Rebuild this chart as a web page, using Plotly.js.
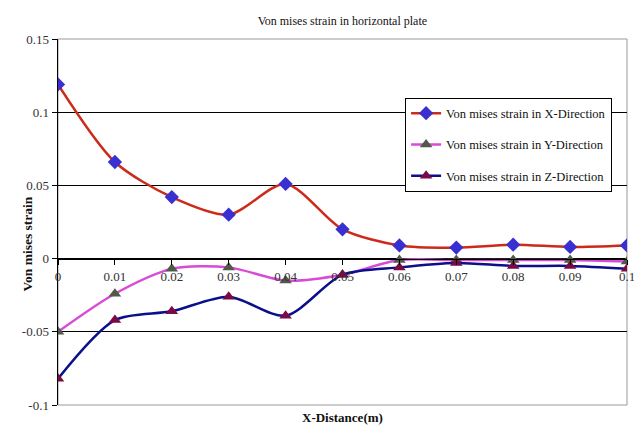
<!DOCTYPE html>
<html>
<head>
<meta charset="utf-8">
<script src="https://cdn.plot.ly/plotly-3.0.1.min.js"></script>
<style>html,body{margin:0;padding:0;background:#fff;}#chart{width:634px;height:437px;}</style>
</head>
<body>
<div id="chart"></div>
<script>
const distance = [0, 0.01, 0.02, 0.03, 0.04, 0.05, 0.06, 0.07, 0.08, 0.09, 0.1];
const strainX = [0.119, 0.066, 0.042, 0.030, 0.051, 0.020, 0.009, 0.0075, 0.0095, 0.008, 0.009];
const strainY = [-0.05, -0.024, -0.007, -0.006, -0.015, -0.011, -0.001, -0.001, -0.001, -0.001, -0.002];
const strainZ = [-0.082, -0.042, -0.036, -0.026, -0.039, -0.011, -0.006, -0.003, -0.005, -0.005, -0.007];
const seriesNames = ["Von mises strain in X-Direction", "Von mises strain in Y-Direction", "Von mises strain in Z-Direction"];
const xTicks = [0, 0.01, 0.02, 0.03, 0.04, 0.05, 0.06, 0.07, 0.08, 0.09, 0.1];
const xTickText = ["0", "0.01", "0.02", "0.03", "0.04", "0.05", "0.06", "0.07", "0.08", "0.09", "0.1"];
const yTicks = [-0.1, -0.05, 0, 0.05, 0.1, 0.15];
const yTickText = ["-0.1", "-0.05", "0", "0.05", "0.1", "0.15"];

const serif = "Liberation Serif, Times New Roman, serif";

const traces = [
  {x: distance, y: strainX, name: seriesNames[0], legendgroup: "a", mode: "lines+markers",
   line: {color: "#cc2a1a", width: 2.5, shape: "spline", smoothing: 0.8},
   marker: {symbol: "diamond", size: 11, color: "#3a2fd0"}},
  {x: distance, y: strainY, name: seriesNames[1], legendgroup: "b", mode: "lines+markers",
   line: {color: "#d84ad8", width: 2.5, shape: "spline", smoothing: 0.8},
   marker: {symbol: "triangle-up", size: 11, color: "#4f5a48"}},
  {x: distance, y: strainZ, name: seriesNames[2], legendgroup: "c", mode: "lines+markers",
   line: {color: "#0b0f8a", width: 2.5, shape: "spline", smoothing: 0.8},
   marker: {symbol: "triangle-up", size: 11, color: "#7a0a45"}}
];

const layout = {
  width: 634, height: 437,
  margin: {l: 58, r: 7, t: 39, b: 32},
  paper_bgcolor: "#fff", plot_bgcolor: "#fff",
  font: {family: serif, color: "#222", size: 12},
  showlegend: true,
  title: {text: "Von mises strain in horizontal plate", font: {family: serif, size: 12, color: "#111"},
          x: 0.54, xanchor: "center", y: 0.952, yanchor: "middle"},
  xaxis: {
    range: [0, 0.1], tickvals: xTicks, ticktext: xTickText,
    anchor: "free", position: 0.4, ticklabeloverflow: "allow",
    showgrid: false, zeroline: false, showline: true, linecolor: "#000", linewidth: 1.5,
    ticks: "outside", ticklen: 5, tickcolor: "#000",
    tickfont: {family: serif, size: 13, color: "#333"}
  },
  yaxis: {
    range: [-0.1, 0.15], tickvals: yTicks, ticktext: yTickText,
    showgrid: true, gridcolor: "#000", gridwidth: 1,
    zeroline: false, showline: true, linecolor: "#000", linewidth: 1.5,
    ticks: "outside", ticklen: 5, tickcolor: "#000",
    tickfont: {family: serif, size: 13, color: "#333"}
  },
  legend: {
    x: 0.61, y: 0.84, xanchor: "left", yanchor: "top",
    bordercolor: "#000", borderwidth: 1, bgcolor: "#fff",
    font: {family: serif, size: 12.5, color: "#111"},
    tracegroupgap: 12
  },
  shapes: [
    {type: "rect", xref: "paper", yref: "paper", x0: 0, x1: 1, y0: 0, y1: 1,
     line: {color: "#999", width: 1}, layer: "below"}
  ],
  annotations: [
    {text: "<b>X-Distance(m)</b>", xref: "paper", yref: "paper", x: 0.5, y: 0, yshift: -22,
     showarrow: false, font: {family: serif, size: 13, color: "#111"}},
    {text: "<b>Von mises strain</b>", xref: "paper", yref: "paper", x: 0, xshift: -40, y: 0.44,
     textangle: -90, showarrow: false, font: {family: serif, size: 13.5, color: "#111"}}
  ]
};

Plotly.newPlot("chart", traces, layout, {displayModeBar: false, staticPlot: true});
</script>
</body>
</html>
